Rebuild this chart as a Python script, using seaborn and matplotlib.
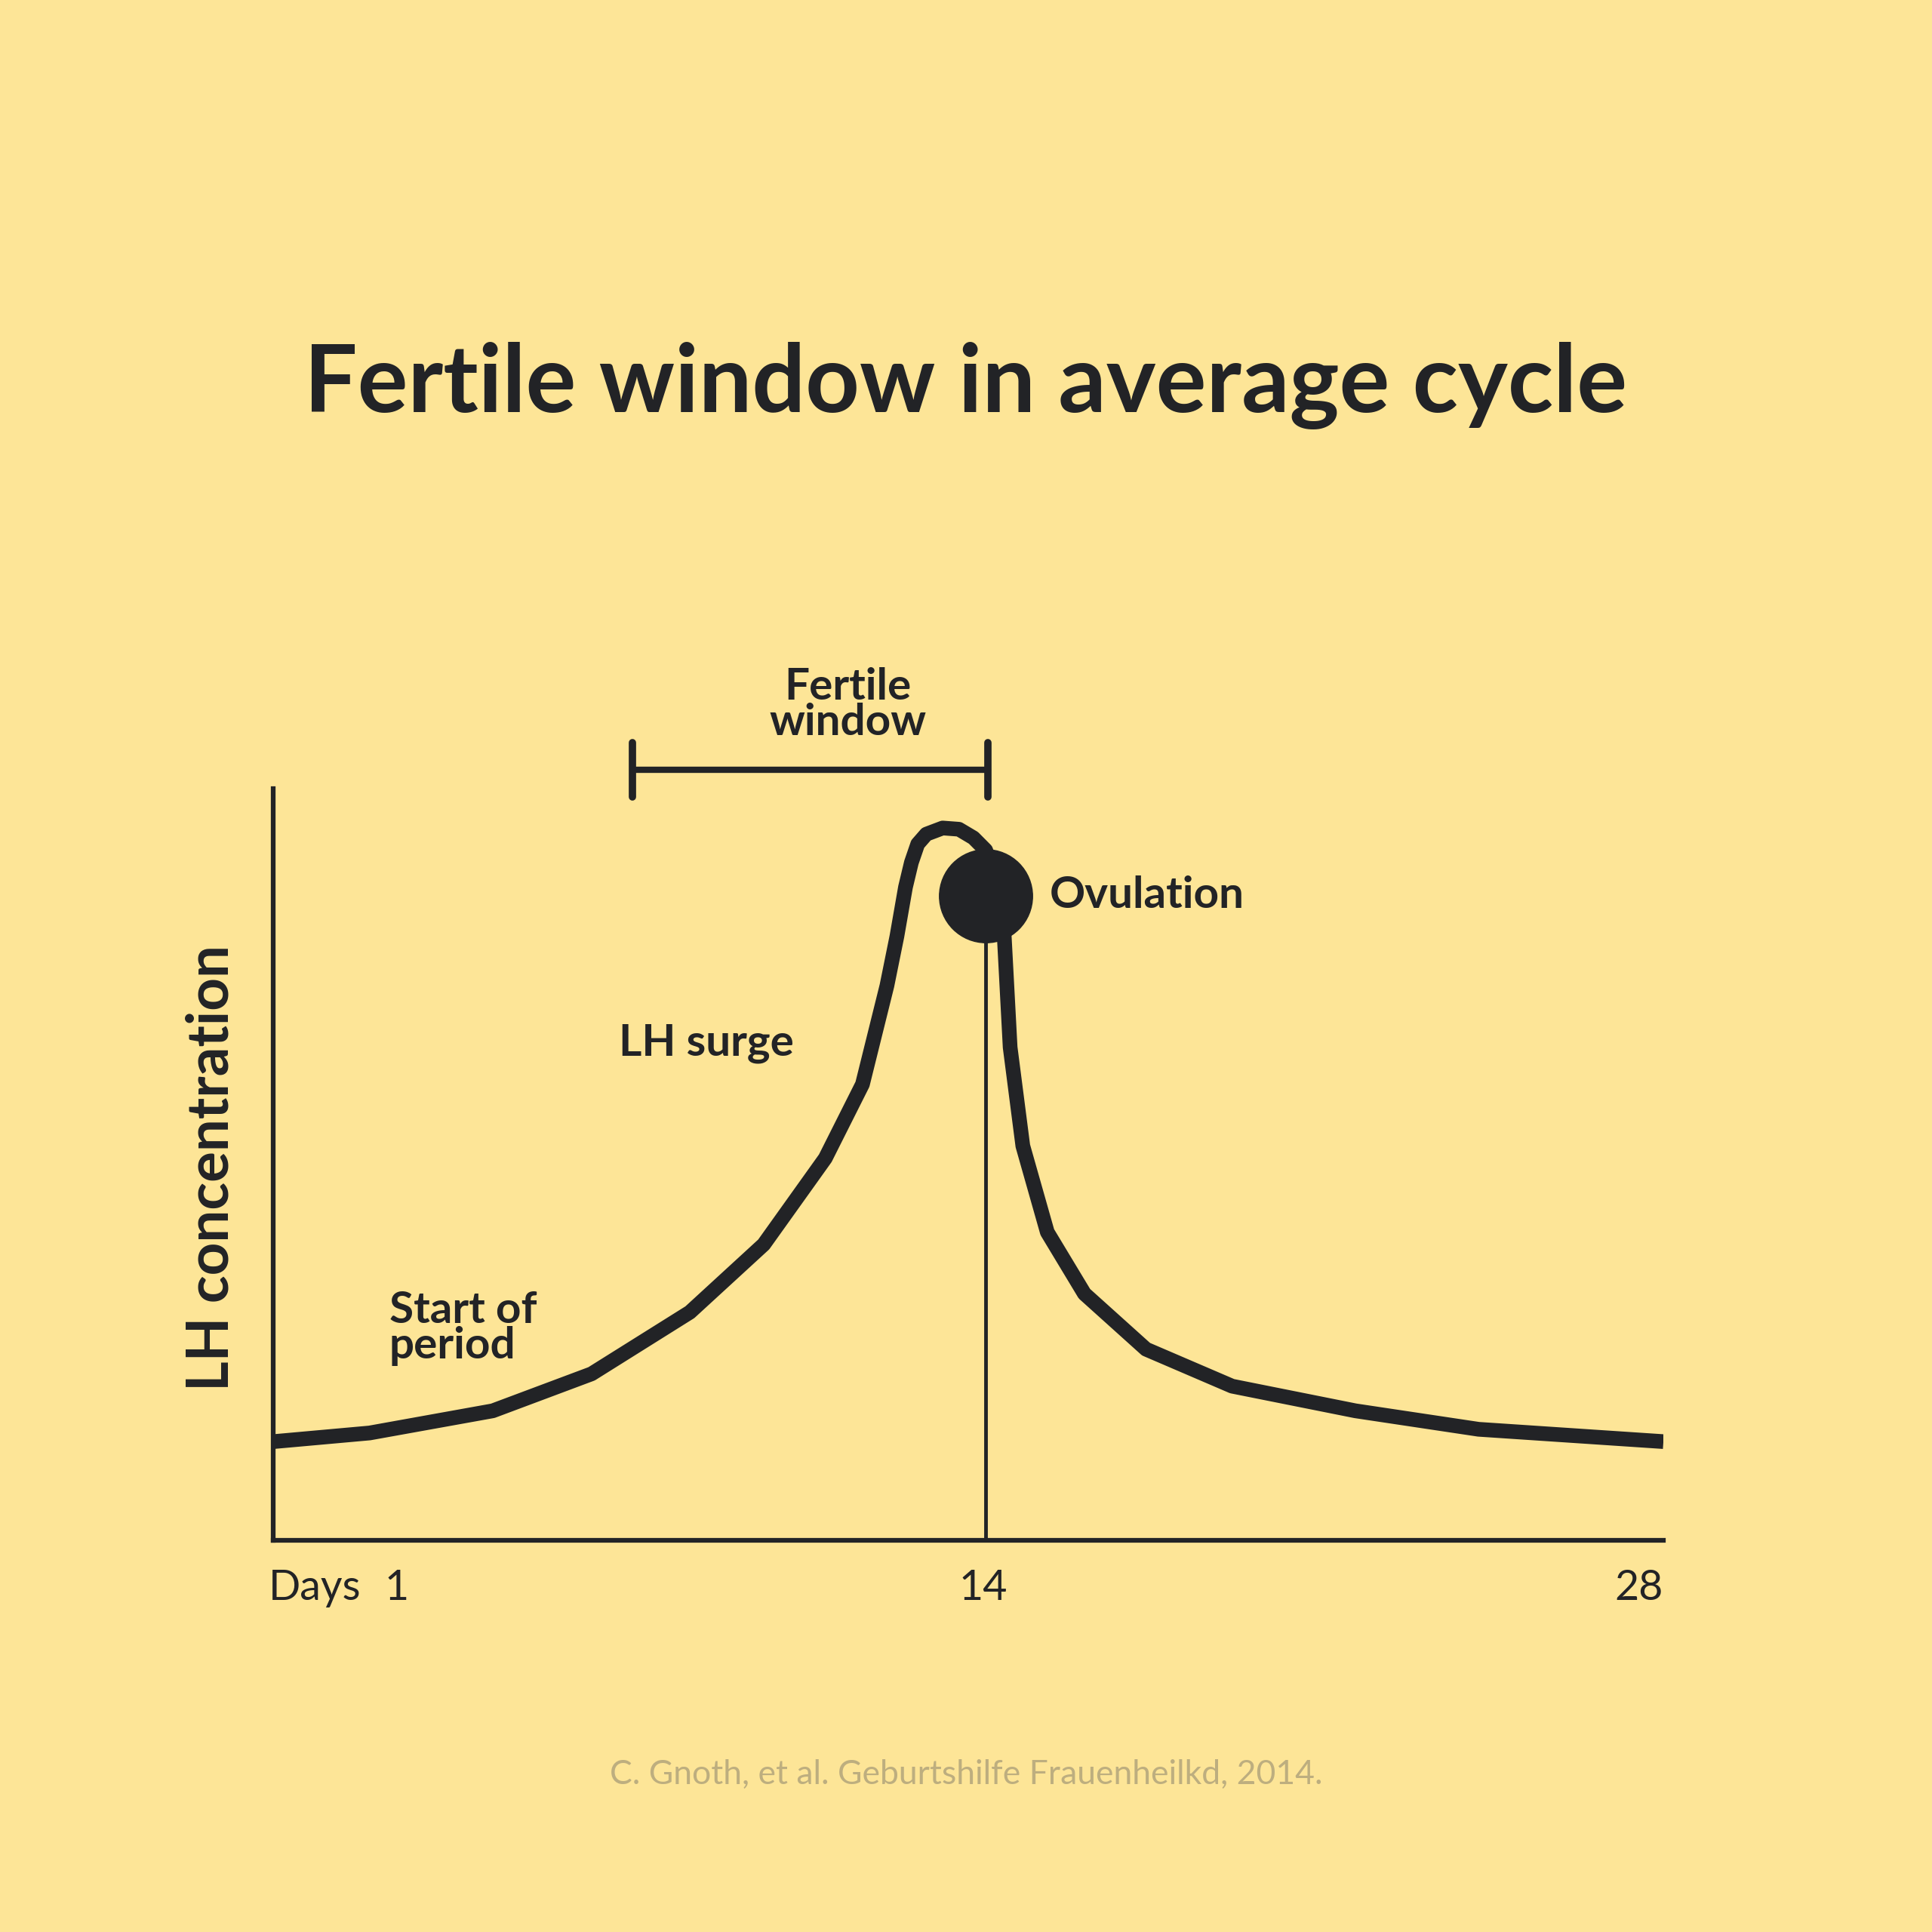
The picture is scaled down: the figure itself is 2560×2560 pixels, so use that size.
import matplotlib
matplotlib.use("Agg")
import matplotlib.pyplot as plt
import seaborn as sns
import pandas as pd

BG = "#fde597"
INK = "#222326"

days = [-1.72, 0.40, 3.12, 5.30, 7.47, 9.10, 10.46, 11.28, 11.82, 12.04, 12.23, 12.36, 12.50, 12.69,
        13.05, 13.41, 13.73, 14.0, 14.30, 14.41, 14.54, 14.82, 15.36, 16.18, 17.54, 19.44, 22.16, 24.88, 28.96]
lh = [80, 87, 105, 135, 185, 240, 310, 370, 450, 490, 530, 550, 565, 573,
      578, 577, 570, 560, 530, 490, 400, 320, 250, 200, 155, 125, 105, 90, 80]
ovulation_day, ovulation_lh = 14.0, 523
window_start, window_end, window_level = 6.2, 14.05, 625
tick_days = [1, 14, 28]

sns.set_theme(style="white")
plt.rcParams['font.family'] = ['Lato', 'DejaVu Sans']

S = 1568.0
fig = plt.figure(figsize=(25.6, 25.6), dpi=100, facecolor=BG)
ax = fig.add_axes([222/S, 1 - 1250/S, (1350-222)/S, (1250-640)/S])
ax.set_facecolor("none")
ax.set_xlim(-1.72, 28.96)
ax.set_ylim(0, 610)

df = pd.DataFrame({"day": days, "lh": lh})
sns.lineplot(data=df, x="day", y="lh", ax=ax, color=INK, lw=14, sort=False,
             solid_capstyle="butt", solid_joinstyle="round")
ax.plot([ovulation_day, ovulation_day], [0, ovulation_lh], color=INK, lw=3.5)
ax.scatter([ovulation_day], [ovulation_lh], s=7900, color=INK, zorder=5)
ax.plot([window_start, window_end], [window_level, window_level], color=INK, lw=6, clip_on=False)
for d in (window_start, window_end):
    ax.plot([d, d], [window_level - 22, window_level + 22], color=INK, lw=7, clip_on=False)

for s in ["top", "right"]:
    ax.spines[s].set_visible(False)
for s in ["left", "bottom"]:
    ax.spines[s].set_linewidth(4.5)
    ax.spines[s].set_color(INK)
ax.set_xticks([]); ax.set_yticks([])
ax.set_xlabel(""); ax.set_ylabel("")

def t(x, y, s, **kw):
    fig.text(x/S, 1 - y/S, s, color=INK, **kw)

t(784, 313, "Fertile window in average cycle", fontsize=90, fontweight="bold", ha="center", va="center")
t(688, 572, "Fertile\nwindow", fontsize=42, fontweight="bold", ha="center", va="center", linespacing=0.85)
t(852, 727, "Ovulation", fontsize=42, fontweight="bold", ha="left", va="center")
t(502, 847, "LH surge", fontsize=42, fontweight="bold", ha="left", va="center")
t(316, 1078, "Start of\nperiod", fontsize=42, fontweight="bold", ha="left", va="center", linespacing=0.85)
t(172, 948, "LH concentration", fontsize=55, fontweight="bold", ha="center", va="center", rotation=90)
t(218, 1289, "Days", fontsize=40, ha="left", va="center")
for d, px in zip(tick_days, [322, 798, 1330]):
    t(px, 1289, str(d), fontsize=40, ha="center", va="center")
fig.text(784/S, 1 - 1440/S, "C. Gnoth, et al. Geburtshilfe Frauenheilkd, 2014.", color="#bdae7f",
         fontsize=32, ha="center", va="center")

fig.savefig("out.png", dpi=100, facecolor=BG)
